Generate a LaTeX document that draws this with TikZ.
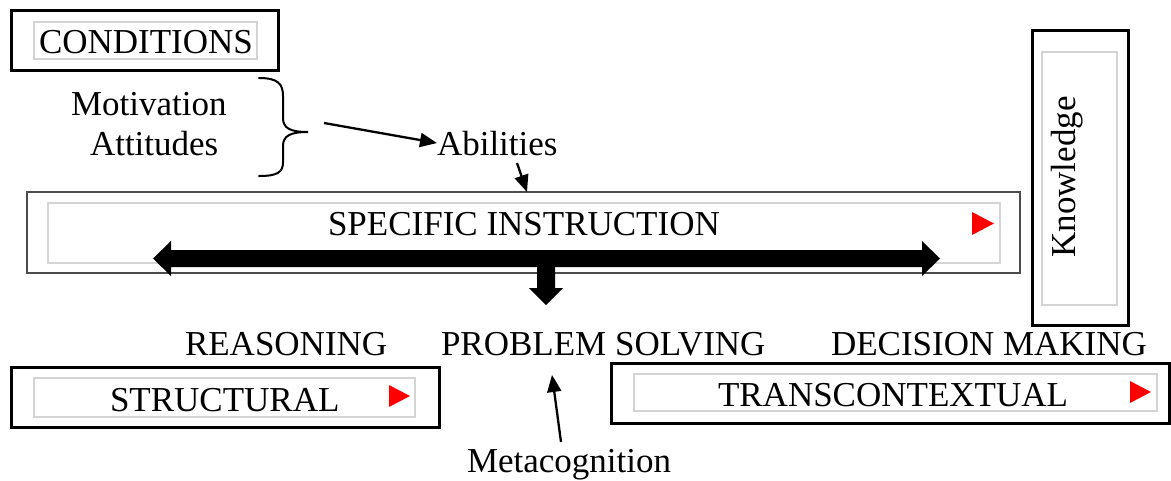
\documentclass[tikz,border=0pt]{standalone}
\usepackage{fontspec}
\setmainfont{Liberation Serif}
\usetikzlibrary{arrows.meta}
\begin{document}
\begin{tikzpicture}[x=1pt,y=-1pt,
  every node/.style={inner sep=0pt, outer sep=0pt},
  txt/.style={font=\fontsize{35}{40}\selectfont, anchor=base west},
  outerbox/.style={draw=black, line width=3pt, anchor=north west},
  sibox/.style={draw=black!70, line width=2pt, anchor=north west},
  innerbox/.style={draw=black!17, line width=1.3pt, anchor=north west},
  redtri/.style={fill=red},
  thinarrow/.style={line width=2.3pt, -{Triangle[length=17pt,width=14pt]}},
  bigarrow/.style={fill=black},
  bracestyle/.style={line width=2pt, line cap=round}
]
\useasboundingbox (0,0) rectangle (1171,480);

% CONDITIONS
\node[outerbox, minimum width=267pt, minimum height=60pt] (condO) at (11,10) {};
\node[innerbox, minimum width=223pt, minimum height=37pt] (condI) at (34,22) {};
\node[txt] (cond) at (39,53) {CONDITIONS};

% Motivation / Attitudes / Abilities
\node[txt] (moti) at (71,115) {Motivation};
\node[txt] (atti) at (90,155) {Attitudes};
\node[txt] (abil) at (437,155) {Abilities};

% brace
\draw[bracestyle] (259,78) .. controls (278,78) and (283,84) .. (283,96)
  -- (283,118) .. controls (283,128) and (290,132) .. (308,132)
  .. controls (290,132) and (283,136) .. (283,146)
  -- (283,162) .. controls (283,172) and (278,176) .. (259,176);
\coordinate (bracearrow) at (324,123);
\draw[thinarrow] (bracearrow) -- (abil.west);

% SPECIFIC INSTRUCTION
\node[sibox, minimum width=993pt, minimum height=81pt] (si) at (27,192) {};
\node[innerbox, minimum width=952pt, minimum height=60pt] (siI) at (48,203) {};
\node[txt] (sit) at (328,235) {SPECIFIC INSTRUCTION};
\fill[redtri] (972,212) -- (994,223.5) -- (972,235) -- cycle;

\coordinate (a1) at (517,163);
\coordinate (x527) at (527,0);
\draw[thinarrow] (a1) -- (si.north -| x527);

% double arrow
\fill[bigarrow] (153,258.5) -- (171,241) -- (171,250) -- (922,250) -- (922,241)
  -- (940,258.5) -- (922,276) -- (922,267) -- (171,267) -- (171,276) -- cycle;
% down arrow
\fill[bigarrow] (537,266) -- (555,266) -- (555,288) -- (563,288) -- (546,305)
  -- (529,288) -- (537,288) -- cycle;

% Knowledge
\node[outerbox, minimum width=96pt, minimum height=295pt] (knO) at (1032,30) {};
\node[innerbox, minimum width=75pt, minimum height=253pt] (knI) at (1042,52) {};
\node[font=\fontsize{35}{40}\selectfont, rotate=90] (kn) at (1067,177) {Knowledge};

% row labels
\node[txt] (reas) at (185,355) {REASONING};
\node[txt] (ps) at (441,355) {PROBLEM SOLVING};
\node[txt] (dm) at (831,355) {DECISION MAKING};

% STRUCTURAL
\node[outerbox, minimum width=428pt, minimum height=60pt] (stO) at (11,367) {};
\node[innerbox, minimum width=381pt, minimum height=39pt] (stI) at (34,378) {};
\node[txt] (st) at (110,411) {STRUCTURAL};
\fill[redtri] (389,385) -- (410,396) -- (389,407) -- cycle;

% TRANSCONTEXTUAL
\node[outerbox, minimum width=558pt, minimum height=60pt] (trO) at (611,363) {};
\node[innerbox, minimum width=523pt, minimum height=37pt] (trI) at (634,374) {};
\node[txt] (tr) at (718,406) {TRANSCONTEXTUAL};
\fill[redtri] (1130,381) -- (1151,392) -- (1130,403) -- cycle;

% Metacognition
\node[txt] (meta) at (467,472) {Metacognition};
\coordinate (m1) at (561,442);
\coordinate (m2) at (552,375);
\draw[thinarrow] (m1) -- (m2);
\end{tikzpicture}
\end{document}
